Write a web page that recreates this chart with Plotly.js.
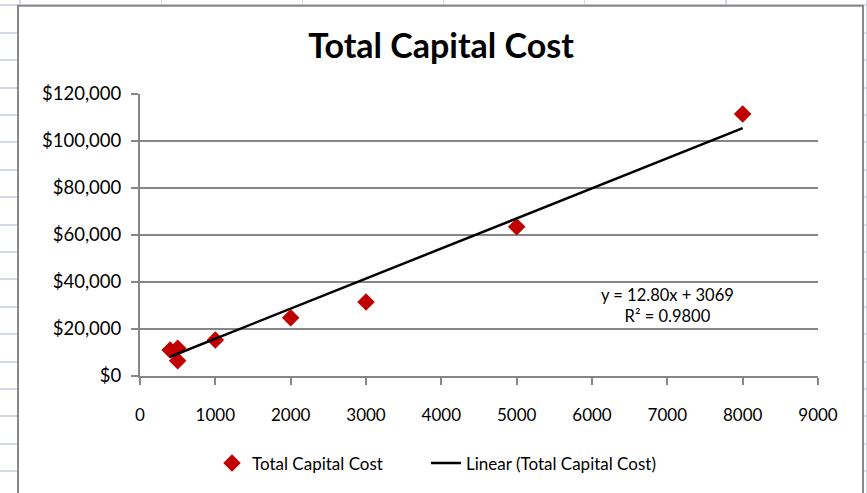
<!DOCTYPE html>
<html>
<head>
<meta charset="utf-8">
<script src="https://cdn.plot.ly/plotly-3.0.1.min.js"></script>
<style>
  html, body { margin: 0; padding: 0; }
  body {
    width: 867px; height: 493px; overflow: hidden;
    background-color: #ffffff;
    background-image:
      repeating-linear-gradient(to bottom, transparent 0px, transparent 4.5px, #d3d9e6 4.5px, #d3d9e6 6.5px, transparent 6.5px, transparent 27.4px),
      repeating-linear-gradient(to right, transparent 0px, transparent 19.5px, #d3d9e6 19.5px, #d3d9e6 21px, transparent 21px, transparent 141.1px);
    background-position: 0 0, 0 0;
  }
  #chart { position: absolute; left: 0; top: 0; width: 867px; height: 493px; }
</style>
</head>
<body>
<div id="chart"></div>
<script>
// Data
const capacity = [400, 500, 500, 1000, 2000, 3000, 5000, 8000];
const totalCapitalCost = [11100, 11800, 6500, 15300, 24800, 31500, 63500, 111500];
const seriesName = "Total Capital Cost";
const trendName = "Linear (Total Capital Cost)";
const trendSlope = 12.80;
const trendIntercept = 3069;
const trendR2 = 0.9800;
const xTicks = [0, 1000, 2000, 3000, 4000, 5000, 6000, 7000, 8000, 9000];
const yTicks = [0, 20000, 40000, 60000, 80000, 100000, 120000];

const trendX = [Math.min(...capacity), Math.max(...capacity)];
const trendY = trendX.map(x => trendSlope * x + trendIntercept);

const font = "Lato, 'Open Sans', sans-serif";
const gridGrey = "#868686";

// margins chosen so the plot area matches the reference pixels
const L = 140, R = 867 - 818, T = 94, B = 493 - 378;
const pw = 867 - L - R, ph = 493 - T - B;
const px2x = p => (p - L) / pw;
const py2y = p => (493 - B - p) / ph;

const traces = [
  {
    x: capacity, y: totalCapitalCost, name: seriesName,
    type: "scatter", mode: "markers",
    marker: { symbol: "diamond", size: 13.5, color: "#C00000" },
    cliponaxis: false, legend: "legend"
  },
  {
    x: trendX, y: trendY, name: trendName,
    type: "scatter", mode: "lines",
    line: { color: "#000000", width: 2.5 },
    cliponaxis: false, legend: "legend2"
  }
];

const legendFont = { family: font, size: 17, color: "#000000" };

const layout = {
  width: 867, height: 493,
  margin: { l: L, r: R, t: T, b: B },
  paper_bgcolor: "rgba(0,0,0,0)",
  plot_bgcolor: "#ffffff",
  font: { family: font, color: "#000000", size: 17 },
  title: {
    text: "<b>Total Capital Cost</b>",
    font: { family: font, size: 34, color: "#000000" },
    xref: "container", x: 441 / 867, xanchor: "center",
    yref: "container", y: 1 - 46 / 493, yanchor: "middle"
  },
  showlegend: true,
  legend: {
    orientation: "h",
    x: px2x(212), xanchor: "left",
    y: py2y(466), yanchor: "middle",
    font: legendFont,
    bgcolor: "rgba(0,0,0,0)"
  },
  legend2: {
    orientation: "h",
    x: px2x(426), xanchor: "left",
    y: py2y(466), yanchor: "middle",
    font: legendFont,
    bgcolor: "rgba(0,0,0,0)"
  },
  xaxis: {
    range: [0, 9000],
    tickvals: xTicks,
    ticktext: xTicks.map(String),
    ticks: "outside", ticklen: 7, tickwidth: 2, tickcolor: gridGrey,
    showline: true, linecolor: gridGrey, linewidth: 2,
    showgrid: false, zeroline: false,
    tickfont: { family: font, size: 17, color: "#000000" },
    ticklabelstandoff: 16,
    fixedrange: true
  },
  yaxis: {
    range: [0, 120000],
    tickvals: yTicks,
    ticktext: yTicks.map(v => "$" + v.toLocaleString("en-US")),
    ticks: "outside", ticklen: 7, tickwidth: 2, tickcolor: gridGrey,
    showline: true, linecolor: gridGrey, linewidth: 2,
    showgrid: true, gridcolor: gridGrey, gridwidth: 2,
    zeroline: false,
    tickfont: { family: font, size: 18.5, color: "#000000" },
    ticklabelstandoff: 6,
    fixedrange: true
  },
  shapes: [
    {
      type: "rect", xref: "paper", yref: "paper", layer: "below",
      x0: px2x(18), x1: px2x(863), y0: py2y(505), y1: py2y(5),
      fillcolor: "#ffffff", line: { color: "#888888", width: 2 }
    }
  ],
  annotations: [
    {
      xref: "paper", yref: "paper",
      x: px2x(667), y: py2y(307), xanchor: "center", yanchor: "middle",
      text: "y = " + trendSlope.toFixed(2) + "x + " + trendIntercept + "<br>R² = " + trendR2.toFixed(4),
      showarrow: false, align: "center",
      font: { family: font, size: 16.5, color: "#000000" }
    }
  ]
};

Plotly.newPlot("chart", traces, layout, { displayModeBar: false, staticPlot: true });
</script>
</body>
</html>
